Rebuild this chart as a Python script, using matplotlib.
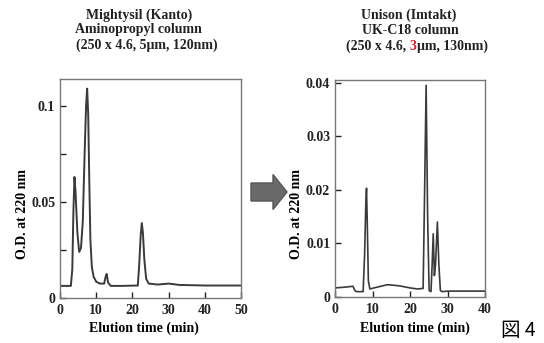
import matplotlib.pyplot as plt
from matplotlib.patches import FancyArrow

# Left chromatogram (Mightysil aminopropyl)
left_time = [0, 3.0, 3.4, 3.7, 4.0, 4.3, 4.8, 5.3, 5.8, 6.3, 6.8, 7.2, 7.5, 7.8, 8.1, 8.4,
             8.8, 9.3, 10, 11, 12.2, 12.6, 12.9, 13.3, 14, 17, 21.5, 21.9, 22.3, 22.6, 22.9,
             23.3, 23.8, 24.5, 27, 30, 33, 40, 50]
left_od = [0.0063, 0.0063, 0.015, 0.045, 0.063, 0.055, 0.034, 0.024, 0.026, 0.040, 0.075,
           0.100, 0.109, 0.095, 0.060, 0.030, 0.016, 0.011, 0.0085, 0.0075, 0.0075, 0.011,
           0.0125, 0.008, 0.0063, 0.0063, 0.0065, 0.018, 0.033, 0.039, 0.034, 0.020, 0.010,
           0.0075, 0.007, 0.0075, 0.0068, 0.0065, 0.0065]

# Right chromatogram (Unison UK-C18)
right_time = [0, 2, 4.8, 5.3, 5.8, 7.5, 7.9, 8.2, 8.4, 8.6, 8.9, 9.3, 11, 14, 17, 20, 22,
              23.5, 23.9, 24.3, 24.7, 25.1, 25.6, 25.9, 26.2, 26.5, 26.8, 27.3, 27.7, 28.1,
              28.6, 30, 35, 40]
right_od = [0.0017, 0.0018, 0.002, 0.0012, 0.001, 0.001, 0.008, 0.017, 0.0203, 0.014, 0.003,
            0.0015, 0.0018, 0.0023, 0.0021, 0.0017, 0.0015, 0.0016, 0.02, 0.0395, 0.015,
            0.0012, 0.001, 0.006, 0.0118, 0.004, 0.006, 0.014, 0.006, 0.0012, 0.001, 0.0011,
            0.0011, 0.0011]

left_title = ['Mightysil (Kanto)', 'Aminopropyl column', '(250 x 4.6, 5\u03bcm, 120nm)']
right_title = ['Unison (Imtakt)', 'UK-C18 column']
right_title3 = ['(250 x 4.6, ', '3', '\u03bcm, 130nm)']

plt.rcParams['font.family'] = 'Liberation Serif'
plt.rcParams['font.weight'] = 'bold'

fig = plt.figure(figsize=(5.44, 3.43), dpi=100)
W, H = 544, 343


def fx(px):
    return px / W


def fy(py):
    return 1 - py / H


ax1 = fig.add_axes([fx(60), fy(298), 181 / W, 219 / H])
ax2 = fig.add_axes([fx(335), fy(297), 150 / W, 217 / H])

ax1.plot(left_time, left_od, color='#3a3a3a', lw=1.4)
ax2.plot(right_time, right_od, color='#3a3a3a', lw=1.2)

ax1.set_xlim(0, 50)
ax1.set_ylim(0, 0.114)
ax1.set_xticks([0, 10, 20, 30, 40, 50])
ax1.set_yticks([0, 0.025, 0.05, 0.075, 0.1])
ax1.set_yticklabels(['0', '', '0.05', '', '0.1'])

ax2.set_xlim(0, 40)
ax2.set_ylim(0, 0.0405)
ax2.set_xticks([0, 10, 20, 30, 40])
ax2.set_yticks([0, 0.01, 0.02, 0.03, 0.04])
ax2.set_yticklabels(['0', '0.01', '0.02', '0.03', '0.04'])

for ax in (ax1, ax2):
    ax.tick_params(direction='in', length=4, width=1, labelsize=10, colors='#222222')
    ax.tick_params(axis='x', pad=4)
    for s in ax.spines.values():
        s.set_color('#777777')
        s.set_linewidth(1.0)
    ax.set_xticklabels([str(int(v)) for v in ax.get_xticks()], fontweight='bold')
    for lab in ax.get_yticklabels():
        lab.set_fontweight('bold')

# axis labels
fig.text(fx(144), fy(328), 'Elution time (min)', ha='center', va='center', fontsize=10)
fig.text(fx(415), fy(328), 'Elution time (min)', ha='center', va='center', fontsize=10)
fig.text(fx(23), fy(214), 'O.D. at 220 nm', rotation=90, ha='center', va='center', fontsize=10)
fig.text(fx(296), fy(214), 'O.D. at 220 nm', rotation=90, ha='center', va='center', fontsize=10)

# titles
for txt, cx, cy in zip(left_title, [139, 138, 147], [15, 30, 45]):
    fig.text(fx(cx), fy(cy), txt, ha='center', va='center', fontsize=10, color='#222222')
for txt, cx, cy in zip(right_title, [409, 410], [15, 30]):
    fig.text(fx(cx), fy(cy), txt, ha='center', va='center', fontsize=10, color='#222222')

# third right title line with red "3"
fig.canvas.draw()
r = fig.canvas.get_renderer()
parts = []
for txt, col in zip(right_title3, ['#222222', '#d0202a', '#222222']):
    parts.append(fig.text(0, fy(46), txt, ha='left', va='center', fontsize=10, color=col))
widths = [p.get_window_extent(r).width for p in parts]
x = 417 - sum(widths) / 2
for p, w in zip(parts, widths):
    p.set_x(fx(x))
    x += w

# arrow between panels
arrow = FancyArrow(fx(251), fy(192), fx(287) - fx(251), 0, width=18 / H,
                   head_width=35 / H, head_length=fx(14), length_includes_head=True,
                   transform=fig.transFigure, color='#6a6a6a', ec='#555555')
fig.patches.append(arrow)

# figure number
fig.text(fx(518), fy(331), '\u56f3 4', ha='center', va='center', fontsize=14,
         family=['Noto Sans CJK JP', 'DejaVu Sans'], fontweight='normal', color='black')

fig.savefig('out.png', dpi=100)
